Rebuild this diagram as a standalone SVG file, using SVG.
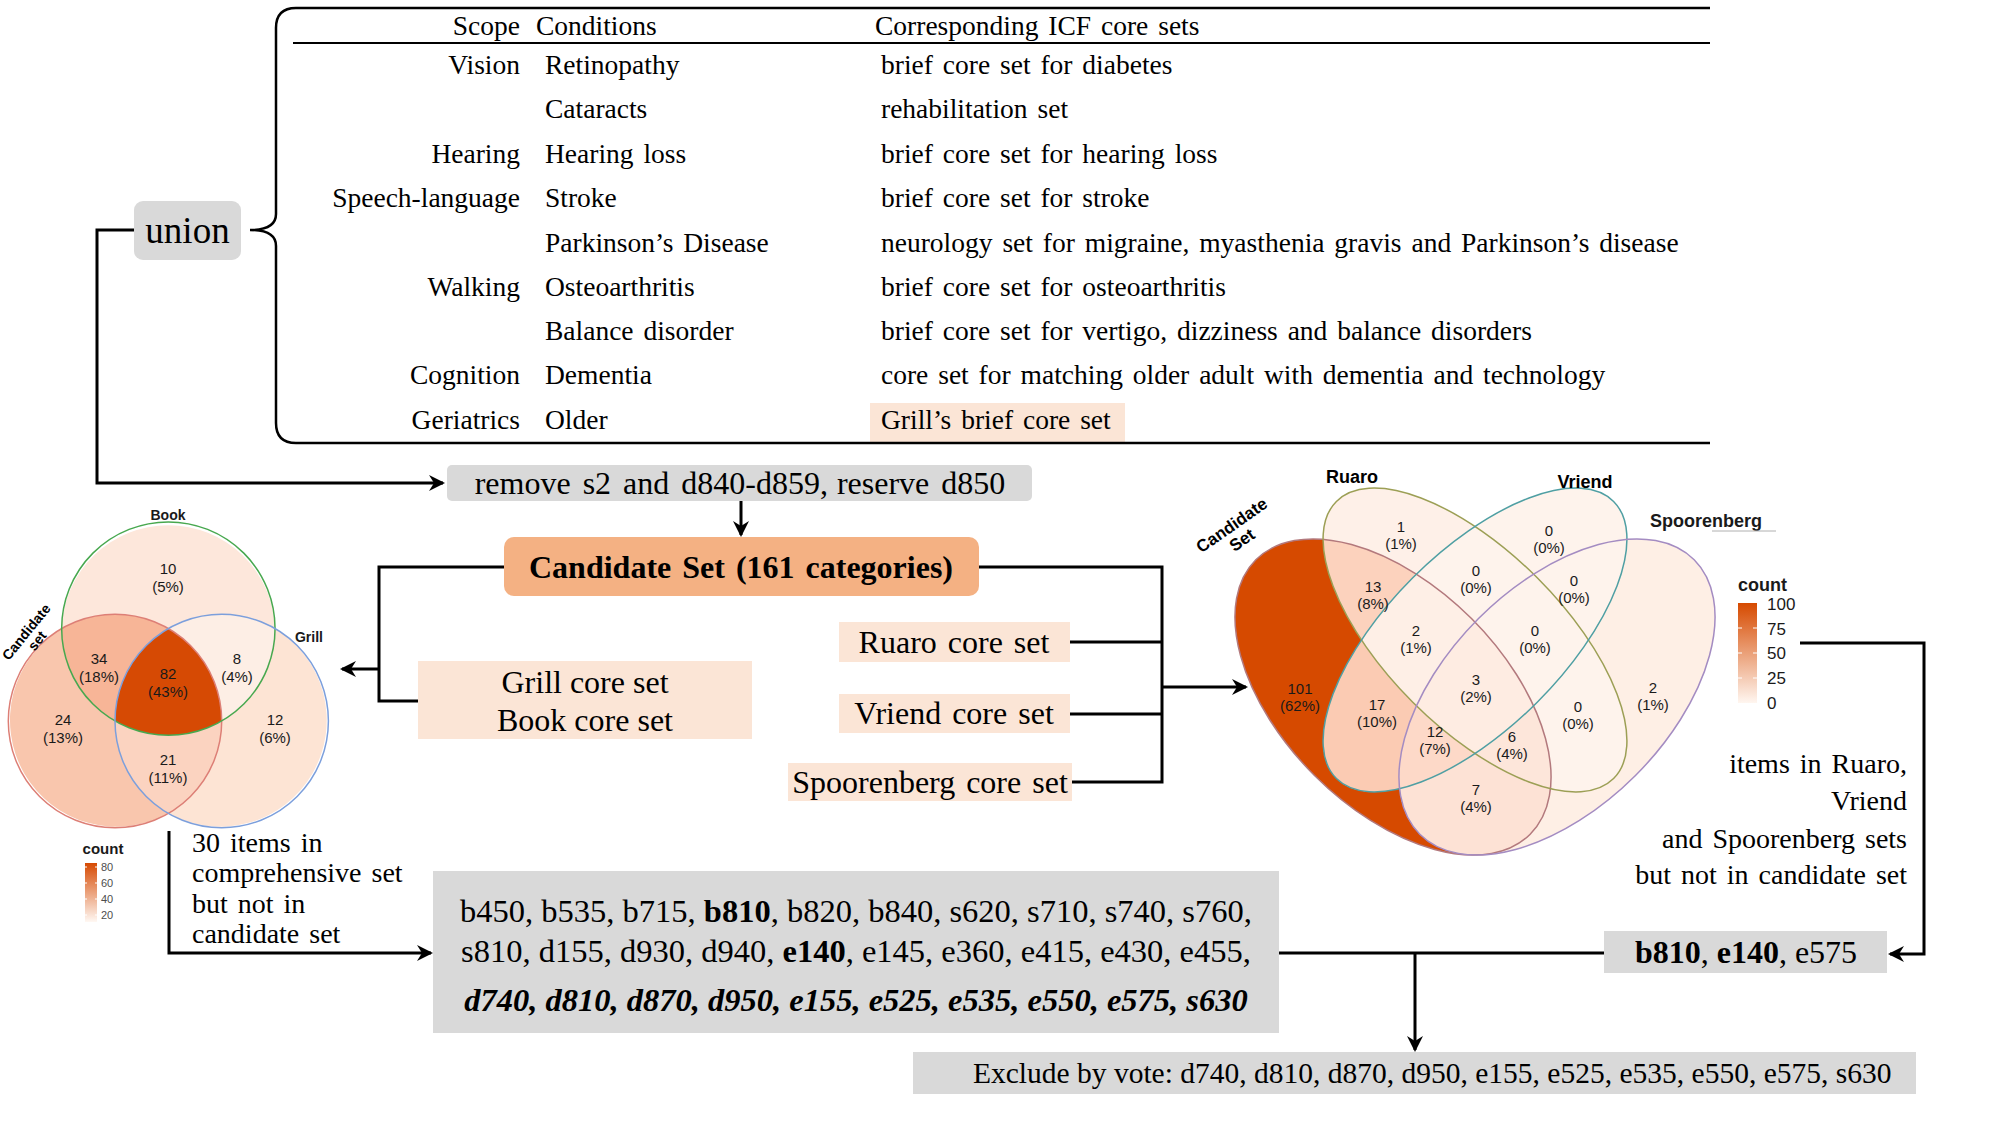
<svg xmlns="http://www.w3.org/2000/svg" width="2003" height="1138" viewBox="0 0 2003 1138">
<style>
.sf{font-family:"Liberation Serif","Times New Roman",serif;fill:#000}
.tb{font-size:27.5px;word-spacing:3px}
.fl{font-size:32px}
.ss{font-family:"Liberation Sans",Arial,sans-serif;fill:#1a1a1a}
.vn{font-size:15px;text-anchor:middle}
.vl{font-size:18px;font-weight:bold;text-anchor:middle;fill:#000}
.ln{fill:none;stroke:#000;stroke-width:3}
.grey{fill:#d9d9d9}
.peach{fill:#fbe5d6}
.mid{text-anchor:middle}
.end{text-anchor:end}
</style>
<defs>
<marker id="arr" viewBox="-16 -10 20 20" refX="0" refY="0" markerWidth="20" markerHeight="20" markerUnits="userSpaceOnUse" orient="auto">
<path d="M2,0 L-14,-8 L-9,0 L-14,8 Z" fill="#000"/>
</marker>
<linearGradient id="g3" x1="0" y1="0" x2="0" y2="1"><stop offset="0" stop-color="#d64a03"/><stop offset="1" stop-color="#fff8f3"/></linearGradient>
<linearGradient id="g4" x1="0" y1="0" x2="0" y2="1"><stop offset="0" stop-color="#d64a00"/><stop offset="1" stop-color="#fff6f0"/></linearGradient>
<clipPath id="kC"><ellipse cx="1393" cy="697" rx="194" ry="111" transform="rotate(45 1393 697)"/></clipPath>
<clipPath id="kR"><ellipse cx="1475" cy="640" rx="196" ry="88" transform="rotate(45 1475 640)"/></clipPath>
<clipPath id="kV"><ellipse cx="1475" cy="640" rx="196" ry="88" transform="rotate(-45 1475 640)"/></clipPath>
<clipPath id="kS"><ellipse cx="1557" cy="697" rx="194" ry="111" transform="rotate(-45 1557 697)"/></clipPath>
<mask id="mC" maskUnits="userSpaceOnUse" x="0" y="0" width="2003" height="1138"><rect x="0" y="0" width="2003" height="1138" fill="#fff"/><ellipse cx="1393" cy="697" rx="194" ry="111" transform="rotate(45 1393 697)" fill="#000"/></mask>
<mask id="mR" maskUnits="userSpaceOnUse" x="0" y="0" width="2003" height="1138"><rect x="0" y="0" width="2003" height="1138" fill="#fff"/><ellipse cx="1475" cy="640" rx="196" ry="88" transform="rotate(45 1475 640)" fill="#000"/></mask>
<mask id="mV" maskUnits="userSpaceOnUse" x="0" y="0" width="2003" height="1138"><rect x="0" y="0" width="2003" height="1138" fill="#fff"/><ellipse cx="1475" cy="640" rx="196" ry="88" transform="rotate(-45 1475 640)" fill="#000"/></mask>
<mask id="mS" maskUnits="userSpaceOnUse" x="0" y="0" width="2003" height="1138"><rect x="0" y="0" width="2003" height="1138" fill="#fff"/><ellipse cx="1557" cy="697" rx="194" ry="111" transform="rotate(-45 1557 697)" fill="#000"/></mask>
</defs>
<rect x="0" y="0" width="2003" height="1138" fill="#fff"/>

<!-- Table -->
<g id="table">
<rect x="870" y="403" width="255" height="39" class="peach"/>
<path d="M1710,8 H296 Q276,8 276,28 V214 Q276,230 250,230 Q276,230 276,246 V423 Q276,443 296,443 H1710" fill="none" stroke="#000" stroke-width="2.5"/>
<line x1="293" y1="43" x2="1710" y2="43" stroke="#000" stroke-width="2"/>
<g class="sf tb">
<text x="520" y="35" class="end">Scope</text>
<text x="536" y="35">Conditions</text>
<text x="875" y="35">Corresponding ICF core sets</text>
<text x="520" y="74" class="end">Vision</text>
<text x="545" y="74">Retinopathy</text>
<text x="881" y="74">brief core set for diabetes</text>
<text x="545" y="118">Cataracts</text>
<text x="881" y="118">rehabilitation set</text>
<text x="520" y="163" class="end">Hearing</text>
<text x="545" y="163">Hearing loss</text>
<text x="881" y="163">brief core set for hearing loss</text>
<text x="520" y="207" class="end">Speech-language</text>
<text x="545" y="207">Stroke</text>
<text x="881" y="207">brief core set for stroke</text>
<text x="545" y="252">Parkinson’s Disease</text>
<text x="881" y="252">neurology set for migraine, myasthenia gravis and Parkinson’s disease</text>
<text x="520" y="296" class="end">Walking</text>
<text x="545" y="296">Osteoarthritis</text>
<text x="881" y="296">brief core set for osteoarthritis</text>
<text x="545" y="340">Balance disorder</text>
<text x="881" y="340">brief core set for vertigo, dizziness and balance disorders</text>
<text x="520" y="384" class="end">Cognition</text>
<text x="545" y="384">Dementia</text>
<text x="881" y="384">core set for matching older adult with dementia and technology</text>
<text x="520" y="429" class="end">Geriatrics</text>
<text x="545" y="429">Older</text>
<text x="881" y="429">Grill’s brief core set</text>
</g>
</g>

<!-- Connectors -->
<g id="connectors">
<path class="ln" d="M134,230 H97 V483 H443" marker-end="url(#arr)"/>
<path class="ln" d="M741,501 V535" stroke-width="2.5" marker-end="url(#arr)"/>
<path class="ln" d="M504,567 H379 V701 H418"/>
<path class="ln" d="M379,669 H342" marker-end="url(#arr)"/>
<path class="ln" d="M979,567 H1162 V782 H1072"/>
<path class="ln" d="M1162,642 H1070"/>
<path class="ln" d="M1162,714 H1070"/>
<path class="ln" d="M1162,687 H1246" marker-end="url(#arr)"/>
<path class="ln" d="M169,831 V953 H431" marker-end="url(#arr)"/>
<path class="ln" d="M1279,953 H1604"/>
<path class="ln" d="M1415,953 V1050" stroke-width="2.5" marker-end="url(#arr)"/>
<path class="ln" d="M1800,643 H1924 V954 H1890" marker-end="url(#arr)"/>
</g>

<!-- union -->
<g id="union">
<rect x="134" y="201" width="107" height="59" rx="9" class="grey"/>
<text x="187.5" y="243" class="sf mid" font-size="37">union</text>
</g>

<!-- remove -->
<g id="remove">
<rect x="447" y="465" width="585" height="36" rx="5" class="grey"/>
<text x="740" y="494" class="sf fl mid" word-spacing="4">remove s2 and d840-d859,<tspan dx="9">reserve d850</tspan></text>
</g>

<!-- candidate -->
<g id="candidate">
<rect x="504" y="537" width="475" height="59" rx="10" fill="#f4b183"/>
<text x="741" y="578" class="sf fl mid" font-weight="bold" word-spacing="3">Candidate Set (161 categories)</text>
</g>

<g id="grillbook">
<rect x="418" y="661" width="334" height="78" class="peach"/>
<text x="585" y="693" class="sf fl mid">Grill core set</text>
<text x="585" y="731" class="sf fl mid">Book core set</text>
</g>

<g id="ruaro">
<rect x="839" y="622" width="231" height="40" class="peach"/>
<text x="954" y="653" class="sf fl mid" word-spacing="3">Ruaro core set</text>
</g>
<g id="vriend">
<rect x="839" y="694" width="231" height="39" class="peach"/>
<text x="954" y="724" class="sf fl mid" word-spacing="3">Vriend core set</text>
</g>
<g id="spoorenberg">
<rect x="788" y="763" width="284" height="38" class="peach"/>
<text x="930" y="793" class="sf fl mid" word-spacing="3">Spoorenberg core set</text>
</g>

<!-- 3-set Venn -->
<g id="venn3">
<path fill="#d64a04" d="M168.35,628.6 A106.7,106.7 0 0 1 221.7,721 A106.7,106.7 0 0 1 115,721 A106.7,106.7 0 0 1 168.35,628.6 Z"/>
<path fill="#f7b597" d="M61.7,628.6 A106.7,106.7 0 0 1 168.35,628.6 A106.7,106.7 0 0 0 115,721 A106.7,106.7 0 0 1 61.7,628.6 Z"/>
<path fill="#fdeee5" d="M168.35,628.6 A106.7,106.7 0 0 1 275,628.6 A106.7,106.7 0 0 1 221.7,721 A106.7,106.7 0 0 0 168.35,628.6 Z"/>
<path fill="#fbd3c0" d="M115,721 A106.7,106.7 0 0 0 221.7,721 A106.7,106.7 0 0 1 168.35,813.4 A106.7,106.7 0 0 1 115,721 Z"/>
<path fill="#fde7db" d="M61.7,628.6 A106.7,106.7 0 0 1 275,628.6 A106.7,106.7 0 0 0 168.35,628.6 A106.7,106.7 0 0 0 61.7,628.6 Z"/>
<path fill="#f9c6ad" d="M61.7,628.6 A106.7,106.7 0 0 0 168.35,813.4 A106.7,106.7 0 0 1 115,721 A106.7,106.7 0 0 1 61.7,628.6 Z"/>
<path fill="#fde4d4" d="M275,628.6 A106.7,106.7 0 0 1 168.35,813.4 A106.7,106.7 0 0 0 221.7,721 A106.7,106.7 0 0 0 275,628.6 Z"/>
<circle cx="115" cy="721" r="106.7" fill="none" stroke="#dd7f76" stroke-width="1.5"/>
<circle cx="168.35" cy="628.6" r="106.7" fill="none" stroke="#48a84f" stroke-width="1.5"/>
<circle cx="221.7" cy="721" r="106.7" fill="none" stroke="#7c9fdc" stroke-width="1.5"/>
<g class="ss vn">
<text x="168" y="574">10<tspan x="168" dy="18">(5%)</tspan></text>
<text x="99" y="664">34<tspan x="99" dy="18">(18%)</tspan></text>
<text x="168" y="679">82<tspan x="168" dy="18">(43%)</tspan></text>
<text x="237" y="664">8<tspan x="237" dy="18">(4%)</tspan></text>
<text x="63" y="725">24<tspan x="63" dy="18">(13%)</tspan></text>
<text x="275" y="725">12<tspan x="275" dy="18">(6%)</tspan></text>
<text x="168" y="765">21<tspan x="168" dy="18">(11%)</tspan></text>
</g>
<text x="168" y="520" class="ss mid" font-size="14" font-weight="bold" fill="#000">Book</text>
<text x="309" y="642" class="ss mid" font-size="14" font-weight="bold" fill="#000">Grill</text>
<g transform="translate(30,635) rotate(-51)" class="ss mid" font-size="14" font-weight="bold">
<text x="0" y="0" fill="#000">Candidate</text>
<text x="0" y="14" fill="#000">set</text>
</g>
<text x="103" y="854" class="ss mid" font-size="15" font-weight="bold" fill="#000">count</text>
<rect x="85" y="863" width="12" height="59" fill="url(#g3)"/>
<g stroke="#fff" stroke-width="1">
<path d="M85,867 h2 M95,867 h2 M85,883 h2 M95,883 h2 M85,899 h2 M95,899 h2 M85,915 h2 M95,915 h2"/>
</g>
<g class="ss" font-size="11" fill="#4d4d4d">
<text x="101" y="871" fill="#4d4d4d">80</text>
<text x="101" y="887" fill="#4d4d4d">60</text>
<text x="101" y="903" fill="#4d4d4d">40</text>
<text x="101" y="919" fill="#4d4d4d">20</text>
</g>
</g>

<!-- 4-set Venn -->
<g id="venn4">
<g fill="#fef3ec">
<ellipse cx="1393" cy="697" rx="194" ry="111" transform="rotate(45 1393 697)"/>
<ellipse cx="1475" cy="640" rx="196" ry="88" transform="rotate(45 1475 640)"/>
<ellipse cx="1475" cy="640" rx="196" ry="88" transform="rotate(-45 1475 640)"/>
<ellipse cx="1557" cy="697" rx="194" ry="111" transform="rotate(-45 1557 697)"/>
</g>
<g clip-path="url(#kC)"><g mask="url(#mR)"><g mask="url(#mV)"><g mask="url(#mS)"><rect x="1220" y="480" width="520" height="390" fill="#d64a00"/></g></g></g></g>
<g clip-path="url(#kR)"><g mask="url(#mC)"><g mask="url(#mV)"><g mask="url(#mS)"><rect x="1220" y="480" width="520" height="390" fill="#fef0e8"/></g></g></g></g>
<g clip-path="url(#kS)"><g mask="url(#mC)"><g mask="url(#mR)"><g mask="url(#mV)"><rect x="1220" y="480" width="520" height="390" fill="#feefe5"/></g></g></g></g>
<g clip-path="url(#kC)"><g clip-path="url(#kR)"><g mask="url(#mV)"><g mask="url(#mS)"><rect x="1220" y="480" width="520" height="390" fill="#fcd2bd"/></g></g></g></g>
<g clip-path="url(#kC)"><g clip-path="url(#kV)"><g mask="url(#mR)"><g mask="url(#mS)"><rect x="1220" y="480" width="520" height="390" fill="#fbcbb3"/></g></g></g></g>
<g clip-path="url(#kC)"><g clip-path="url(#kS)"><g mask="url(#mR)"><g mask="url(#mV)"><rect x="1220" y="480" width="520" height="390" fill="#fde2d5"/></g></g></g></g>
<g clip-path="url(#kC)"><g clip-path="url(#kR)"><g clip-path="url(#kV)"><g mask="url(#mS)"><rect x="1220" y="480" width="520" height="390" fill="#feefe6"/></g></g></g></g>
<g clip-path="url(#kC)"><g clip-path="url(#kR)"><g clip-path="url(#kS)"><g mask="url(#mV)"><rect x="1220" y="480" width="520" height="390" fill="#fde6da"/></g></g></g></g>
<g clip-path="url(#kC)"><g clip-path="url(#kV)"><g clip-path="url(#kS)"><g mask="url(#mR)"><rect x="1220" y="480" width="520" height="390" fill="#fdd9c8"/></g></g></g></g>
<g clip-path="url(#kC)"><g clip-path="url(#kR)"><g clip-path="url(#kV)"><g clip-path="url(#kS)"><rect x="1220" y="480" width="520" height="390" fill="#feece2"/></g></g></g></g>
<g fill="none" stroke-width="1.5">
<ellipse cx="1393" cy="697" rx="194" ry="111" transform="rotate(45 1393 697)" stroke="#b3797d"/>
<ellipse cx="1475" cy="640" rx="196" ry="88" transform="rotate(45 1475 640)" stroke="#9c9f55"/>
<ellipse cx="1475" cy="640" rx="196" ry="88" transform="rotate(-45 1475 640)" stroke="#4f9fa3"/>
<ellipse cx="1557" cy="697" rx="194" ry="111" transform="rotate(-45 1557 697)" stroke="#a48cc2"/>
</g>
<g class="ss vn">
<text x="1300" y="694">101<tspan x="1300" dy="17">(62%)</tspan></text>
<text x="1373" y="592">13<tspan x="1373" dy="17">(8%)</tspan></text>
<text x="1401" y="532">1<tspan x="1401" dy="17">(1%)</tspan></text>
<text x="1549" y="536">0<tspan x="1549" dy="17">(0%)</tspan></text>
<text x="1476" y="576">0<tspan x="1476" dy="17">(0%)</tspan></text>
<text x="1574" y="586">0<tspan x="1574" dy="17">(0%)</tspan></text>
<text x="1416" y="636">2<tspan x="1416" dy="17">(1%)</tspan></text>
<text x="1535" y="636">0<tspan x="1535" dy="17">(0%)</tspan></text>
<text x="1476" y="685">3<tspan x="1476" dy="17">(2%)</tspan></text>
<text x="1377" y="710">17<tspan x="1377" dy="17">(10%)</tspan></text>
<text x="1578" y="712">0<tspan x="1578" dy="17">(0%)</tspan></text>
<text x="1653" y="693">2<tspan x="1653" dy="17">(1%)</tspan></text>
<text x="1435" y="737">12<tspan x="1435" dy="17">(7%)</tspan></text>
<text x="1512" y="742">6<tspan x="1512" dy="17">(4%)</tspan></text>
<text x="1476" y="795">7<tspan x="1476" dy="17">(4%)</tspan></text>
</g>
<text x="1352" y="483" class="ss vl">Ruaro</text>
<text x="1585" y="488" class="ss vl">Vriend</text>
<text x="1650" y="527" class="ss" font-size="18" font-weight="bold" fill="#000">Spoorenberg</text>
<line x1="1712" y1="531" x2="1776" y2="531" stroke="#b0b0b0" stroke-width="1"/>
<g transform="translate(1235,530) rotate(-35)" class="ss mid" font-size="17" font-weight="bold">
<text x="0" y="0" fill="#000">Candidate</text>
<text x="0" y="18" fill="#000">Set</text>
</g>
<text x="1738" y="591" class="ss" font-size="18" font-weight="bold" fill="#000">count</text>
<rect x="1738" y="603" width="19" height="100" fill="url(#g4)"/>
<path d="M1738,628 h4 M1753,628 h4 M1738,653 h4 M1753,653 h4 M1738,678 h4 M1753,678 h4" stroke="#fff" stroke-width="1"/>
<g class="ss" font-size="17">
<text x="1767" y="610">100</text>
<text x="1767" y="635">75</text>
<text x="1767" y="659">50</text>
<text x="1767" y="684">25</text>
<text x="1767" y="709">0</text>
</g>
</g>

<g id="note-left" class="sf" font-size="28" word-spacing="3">
<text x="192" y="852">30 items in</text>
<text x="192" y="882">comprehensive set</text>
<text x="192" y="913">but not in</text>
<text x="192" y="943">candidate set</text>
</g>

<g id="note-right" class="sf end" font-size="28" word-spacing="3">
<text x="1907" y="773">items in Ruaro,</text>
<text x="1907" y="810">Vriend</text>
<text x="1907" y="848">and Spoorenberg sets</text>
<text x="1907" y="884">but not in candidate set</text>
</g>

<g id="items30">
<rect x="433" y="871" width="846" height="162" class="grey"/>
<g class="sf mid" font-size="32.5">
<text x="856" y="922">b450, b535, b715, <tspan font-weight="bold">b810</tspan>, b820, b840, s620, s710, s740, s760,</text>
<text x="856" y="962">s810, d155, d930, d940, <tspan font-weight="bold">e140</tspan>, e145, e360, e415, e430, e455,</text>
<text x="856" y="1011" font-weight="bold" font-style="italic">d740, d810, d870, d950, e155, e525, e535, e550, e575, s630</text>
</g>
</g>

<g id="items3">
<rect x="1604" y="931" width="283" height="42" class="grey"/>
<text x="1746" y="963" class="sf mid" font-size="32"><tspan font-weight="bold">b810</tspan>, <tspan font-weight="bold">e140</tspan>, e575</text>
</g>

<g id="vote">
<rect x="913" y="1052" width="1003" height="42" class="grey"/>
<text x="973" y="1083" class="sf" font-size="29.5">Exclude by vote: d740, d810, d870, d950, e155, e525, e535, e550, e575, s630</text>
</g>
</svg>
